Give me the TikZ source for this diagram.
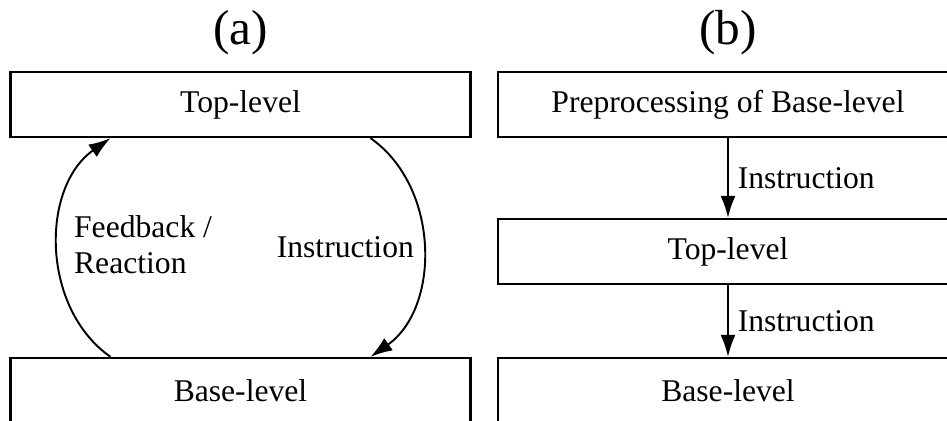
\documentclass[tikz,border=0pt]{standalone}
\usepackage{fontspec}
\setmainfont{Liberation Serif}
\usepackage{tikz}
\usetikzlibrary{arrows.meta}
\tikzset{my_diagram/.style={x=0.02cm,y=-0.02cm,line width=1.3pt}}
\tikzset{my_box/.style={draw, rectangle, minimum width=9.2cm, minimum height=1.3cm, inner sep=0pt, font=\fontsize{18}{20.5}\selectfont}}
\tikzset{my_title/.style={inner sep=0pt, font=\fontsize{28}{32}\selectfont}}
\tikzset{my_label/.style={inner sep=0pt, font=\fontsize{18}{20.5}\selectfont}}
\tikzset{my_arrow/.style={-{Latex[length=12.5pt,width=8.5pt]}, line width=1.1pt}}

\begin{document}
\begin{tikzpicture}[my_diagram]
    \useasboundingbox (0,0) rectangle (947,421);
    \clip (0,0) rectangle (947,421);
    %\draw[help lines] (0,0) grid (947,421);
    % (a)
    \node[my_title] (titleA) at (240.5,33) {(a)};
    \node[my_box] (topA) at (240.5,104.5) {Top-level};
    \node[my_box] (baseA) at (240.5,390.5) {Base-level};
    \node[my_label, align=left, anchor=west] (feedbackA) at (73,245) {Feedback /\\Reaction};
    \node[my_label, anchor=east] (instrA) at (415,247) {Instruction};

    % (b)
    \node[my_title] (titleB) at (728,33) {(b)};
    \node[my_box] (preB) at (728,104.5) {Preprocessing of Base-level};
    \node[my_box] (topB) at (728,251.5) {Top-level};
    \node[my_box] (baseB) at (728,390.5) {Base-level};

    \path[my_arrow]
        ([xshift=-2.6cm]baseA.north) edge [bend left=55] ([xshift=-2.6cm]topA.south)
        ([xshift=2.6cm]topA.south) edge [bend left=55] ([xshift=2.6cm]baseA.north)
        (preB) edge node [my_label, right=5pt] (instrB1) {Instruction} (topB)
        (topB) edge node [my_label, right=5pt] (instrB2) {Instruction} (baseB)
    ;
\end{tikzpicture}
\end{document}
